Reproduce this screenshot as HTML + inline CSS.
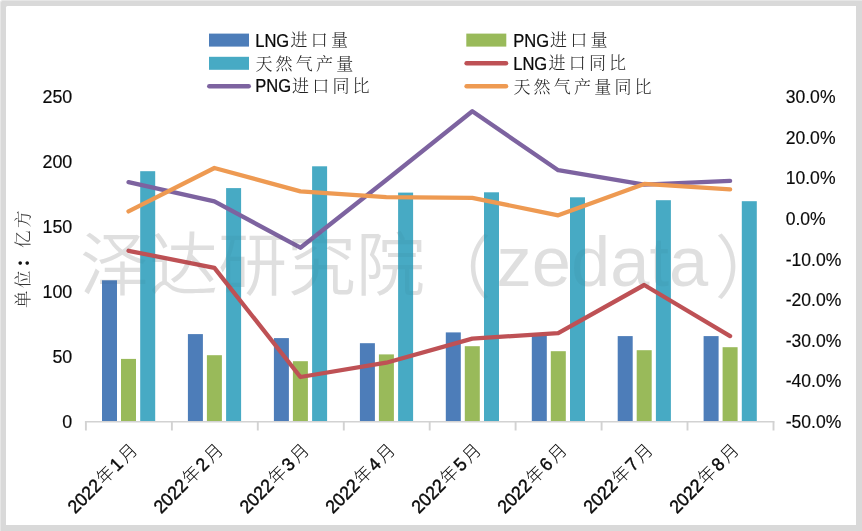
<!DOCTYPE html>
<html lang="zh-CN">
<head>
<meta charset="utf-8">
<title>天然气进口量与产量</title>
<style>
html,body{margin:0;padding:0;background:#fff;}
body{width:862px;height:531px;overflow:hidden;position:relative;}
.frame{position:absolute;left:6px;top:6px;width:850px;height:519px;background:#fff;border-radius:1.5px 0 0 0;}
.edge{position:absolute;left:0;top:0;width:862px;height:531px;box-sizing:border-box;background:#d9d9d9;border-top:1px solid #e6e6e6;border-left:1px solid #e6e6e6;border-radius:3px 0 0 0;}
svg{position:absolute;left:0;top:0;display:block;}
</style>
</head>
<body>
<div class="edge"></div>
<div class="frame"></div>
<svg width="862" height="531" viewBox="0 0 862 531">
<text x="80" y="289.5" font-family="'Liberation Sans', 'Noto Sans CJK SC', sans-serif" font-size="69" font-weight="350" fill="#e7e7e7">泽达研究院<tspan x="422.5" y="292.5">（</tspan><tspan x="496.5" y="286.2" font-size="70.5">zedata</tspan><tspan x="714.8" y="292.5">）</tspan></text>
<g stroke="#d2d2d2" fill="none"><path stroke-width="1.6" d="M84.9 421.8H774.5"/><g stroke-width="1.9"><path d="M85.9 421.8V430.5"/><path d="M171.9 421.8V430.5"/><path d="M257.8 421.8V430.5"/><path d="M343.8 421.8V430.5"/><path d="M429.7 421.8V430.5"/><path d="M515.6 421.8V430.5"/><path d="M601.6 421.8V430.5"/><path d="M687.5 421.8V430.5"/><path d="M773.5 421.8V430.5"/></g></g>
<rect x="102.0" y="280.3" width="15.0" height="140.7" fill="#4d7db9"/>
<rect x="187.9" y="334.1" width="15.0" height="86.9" fill="#4d7db9"/>
<rect x="273.9" y="338.1" width="15.0" height="82.9" fill="#4d7db9"/>
<rect x="359.9" y="343.2" width="15.0" height="77.8" fill="#4d7db9"/>
<rect x="445.8" y="332.4" width="15.0" height="88.6" fill="#4d7db9"/>
<rect x="531.8" y="334.4" width="15.0" height="86.6" fill="#4d7db9"/>
<rect x="617.7" y="336.1" width="15.0" height="84.9" fill="#4d7db9"/>
<rect x="703.6" y="336.1" width="15.0" height="84.9" fill="#4d7db9"/>
<rect x="121.0" y="358.9" width="15.0" height="62.1" fill="#99ba5a"/>
<rect x="206.9" y="355.2" width="15.0" height="65.8" fill="#99ba5a"/>
<rect x="292.9" y="361.2" width="15.0" height="59.8" fill="#99ba5a"/>
<rect x="378.9" y="354.4" width="15.0" height="66.6" fill="#99ba5a"/>
<rect x="464.8" y="346.2" width="15.0" height="74.8" fill="#99ba5a"/>
<rect x="550.8" y="351.2" width="15.0" height="69.8" fill="#99ba5a"/>
<rect x="636.7" y="350.2" width="15.0" height="70.8" fill="#99ba5a"/>
<rect x="722.6" y="347.2" width="15.0" height="73.8" fill="#99ba5a"/>
<rect x="140.2" y="171.2" width="15.0" height="249.8" fill="#47aac4"/>
<rect x="226.1" y="188.1" width="15.0" height="232.9" fill="#47aac4"/>
<rect x="312.1" y="166.3" width="15.0" height="254.7" fill="#47aac4"/>
<rect x="398.1" y="192.6" width="15.0" height="228.4" fill="#47aac4"/>
<rect x="484.0" y="192.3" width="15.0" height="228.7" fill="#47aac4"/>
<rect x="570.0" y="197.3" width="15.0" height="223.7" fill="#47aac4"/>
<rect x="655.9" y="200.2" width="15.0" height="220.8" fill="#47aac4"/>
<rect x="741.8" y="201.2" width="15.0" height="219.8" fill="#47aac4"/>
<polyline points="128.5,250.8 214.4,267.8 300.4,377.0 386.3,362.7 472.3,338.6 558.2,333.1 644.2,285.0 730.1,336.1" fill="none" stroke="#be5155" stroke-width="4.3" stroke-linecap="round" stroke-linejoin="round"/>
<polyline points="128.5,182.1 214.4,201.4 300.4,247.7 386.3,180.0 472.3,111.3 558.2,170.2 644.2,184.6 730.1,180.9" fill="none" stroke="#7d63a0" stroke-width="4.3" stroke-linecap="round" stroke-linejoin="round"/>
<polyline points="128.5,211.4 214.4,168.0 300.4,191.4 386.3,197.1 472.3,197.8 558.2,215.3 644.2,183.9 730.1,189.4" fill="none" stroke="#ee9a52" stroke-width="4.3" stroke-linecap="round" stroke-linejoin="round"/>
<g transform="translate(72.3,0) scale(0.972,1)" font-family="'Liberation Sans', sans-serif" font-size="18.4" fill="#0a0a0a" stroke="#0a0a0a" stroke-width="0.18" text-anchor="end">
<text x="0" y="428.0">0</text>
<text x="0" y="363.0">50</text>
<text x="0" y="298.1">100</text>
<text x="0" y="233.1">150</text>
<text x="0" y="168.2">200</text>
<text x="0" y="103.2">250</text>
</g>
<g transform="translate(785.7,0) scale(0.955,1)" font-family="'Liberation Sans', sans-serif" font-size="18.4" fill="#0a0a0a" stroke="#0a0a0a" stroke-width="0.15">
<text x="0" y="428.0">-50.0%</text>
<text x="0" y="387.4">-40.0%</text>
<text x="0" y="346.8">-30.0%</text>
<text x="0" y="306.2">-20.0%</text>
<text x="0" y="265.6">-10.0%</text>
<text x="0" y="225.0">0.0%</text>
<text x="0" y="184.4">10.0%</text>
<text x="0" y="143.8">20.0%</text>
<text x="0" y="103.2">30.0%</text>
</g>
<g font-family="'Liberation Sans', 'Noto Sans CJK SC', sans-serif" font-size="18.4" fill="#0a0a0a" text-anchor="end">
<text transform="translate(138.3,451.3) rotate(-45) scale(0.955,1)" stroke="#000" stroke-width="0.4">2022<tspan font-size="18" font-weight="300" dx="1.2" stroke="none">年</tspan><tspan dx="2.2">1</tspan><tspan font-size="18" font-weight="300" dx="2.8" stroke="none">月</tspan></text>
<text transform="translate(224.2,451.3) rotate(-45) scale(0.955,1)" stroke="#000" stroke-width="0.4">2022<tspan font-size="18" font-weight="300" dx="1.2" stroke="none">年</tspan><tspan dx="2.2">2</tspan><tspan font-size="18" font-weight="300" dx="2.8" stroke="none">月</tspan></text>
<text transform="translate(310.2,451.3) rotate(-45) scale(0.955,1)" stroke="#000" stroke-width="0.4">2022<tspan font-size="18" font-weight="300" dx="1.2" stroke="none">年</tspan><tspan dx="2.2">3</tspan><tspan font-size="18" font-weight="300" dx="2.8" stroke="none">月</tspan></text>
<text transform="translate(396.1,451.3) rotate(-45) scale(0.955,1)" stroke="#000" stroke-width="0.4">2022<tspan font-size="18" font-weight="300" dx="1.2" stroke="none">年</tspan><tspan dx="2.2">4</tspan><tspan font-size="18" font-weight="300" dx="2.8" stroke="none">月</tspan></text>
<text transform="translate(482.1,451.3) rotate(-45) scale(0.955,1)" stroke="#000" stroke-width="0.4">2022<tspan font-size="18" font-weight="300" dx="1.2" stroke="none">年</tspan><tspan dx="2.2">5</tspan><tspan font-size="18" font-weight="300" dx="2.8" stroke="none">月</tspan></text>
<text transform="translate(568.0,451.3) rotate(-45) scale(0.955,1)" stroke="#000" stroke-width="0.4">2022<tspan font-size="18" font-weight="300" dx="1.2" stroke="none">年</tspan><tspan dx="2.2">6</tspan><tspan font-size="18" font-weight="300" dx="2.8" stroke="none">月</tspan></text>
<text transform="translate(654.0,451.3) rotate(-45) scale(0.955,1)" stroke="#000" stroke-width="0.4">2022<tspan font-size="18" font-weight="300" dx="1.2" stroke="none">年</tspan><tspan dx="2.2">7</tspan><tspan font-size="18" font-weight="300" dx="2.8" stroke="none">月</tspan></text>
<text transform="translate(739.9,451.3) rotate(-45) scale(0.955,1)" stroke="#000" stroke-width="0.4">2022<tspan font-size="18" font-weight="300" dx="1.2" stroke="none">年</tspan><tspan dx="2.2">8</tspan><tspan font-size="18" font-weight="300" dx="2.8" stroke="none">月</tspan></text>
</g>
<text transform="translate(28.6,258) rotate(-90)" text-anchor="middle" font-family="'Liberation Serif', 'Noto Serif CJK SC', serif" font-size="17.5" letter-spacing="2.5" font-weight="300" fill="#333">单位<tspan font-weight="900" fill="#111">：</tspan>亿方</text>
<rect x="209" y="33.6" width="40" height="13" fill="#4d7db9"/>
<rect x="209" y="56.8" width="40" height="13" fill="#47aac4"/>
<path d="M209.3 86.2H248.70000000000002" stroke="#7d63a0" stroke-width="4.5" stroke-linecap="round"/>
<rect x="466.3" y="33.6" width="40" height="13" fill="#99ba5a"/>
<path d="M466.6 63.2H506.0" stroke="#be5155" stroke-width="4.5" stroke-linecap="round"/>
<path d="M466.6 86.2H506.0" stroke="#ee9a52" stroke-width="4.5" stroke-linecap="round"/>
<text transform="translate(255.2,46.7) scale(0.9,1)" font-size="18.4" fill="#0a0a0a" stroke="#0a0a0a" stroke-width="0.25" font-family="'Liberation Sans', sans-serif">LNG</text>
<text x="290.5" y="46.4" font-family="'Liberation Serif', 'Noto Serif CJK SC', serif" font-size="17" letter-spacing="3.2" font-weight="300" fill="#222">进口量</text>
<text x="255.4" y="69.9" font-family="'Liberation Serif', 'Noto Serif CJK SC', serif" font-size="17" letter-spacing="3.2" font-weight="300" fill="#222">天然气产量</text>
<text transform="translate(255.2,92.4) scale(0.9,1)" font-size="18.4" fill="#0a0a0a" stroke="#0a0a0a" stroke-width="0.25" font-family="'Liberation Sans', sans-serif">PNG</text>
<text x="292.0" y="92.1" font-family="'Liberation Serif', 'Noto Serif CJK SC', serif" font-size="17" letter-spacing="3.2" font-weight="300" fill="#222">进口同比</text>
<text transform="translate(513.2,46.7) scale(0.9,1)" font-size="18.4" fill="#0a0a0a" stroke="#0a0a0a" stroke-width="0.25" font-family="'Liberation Sans', sans-serif">PNG</text>
<text x="550.0" y="46.4" font-family="'Liberation Serif', 'Noto Serif CJK SC', serif" font-size="17" letter-spacing="3.2" font-weight="300" fill="#222">进口量</text>
<text transform="translate(513.2,69.6) scale(0.9,1)" font-size="18.4" fill="#0a0a0a" stroke="#0a0a0a" stroke-width="0.25" font-family="'Liberation Sans', sans-serif">LNG</text>
<text x="548.5" y="69.3" font-family="'Liberation Serif', 'Noto Serif CJK SC', serif" font-size="17" letter-spacing="3.2" font-weight="300" fill="#222">进口同比</text>
<text x="513.4" y="92.9" font-family="'Liberation Serif', 'Noto Serif CJK SC', serif" font-size="17" letter-spacing="3.2" font-weight="300" fill="#222">天然气产量同比</text>
<text x="80" y="289.5" font-family="'Liberation Sans', 'Noto Sans CJK SC', sans-serif" font-size="69" font-weight="350" fill="#000" fill-opacity="0.03">泽达研究院<tspan x="422.5" y="292.5">（</tspan><tspan x="496.5" y="286.2" font-size="70.5">zedata</tspan><tspan x="714.8" y="292.5">）</tspan></text>
</svg>
</body>
</html>
